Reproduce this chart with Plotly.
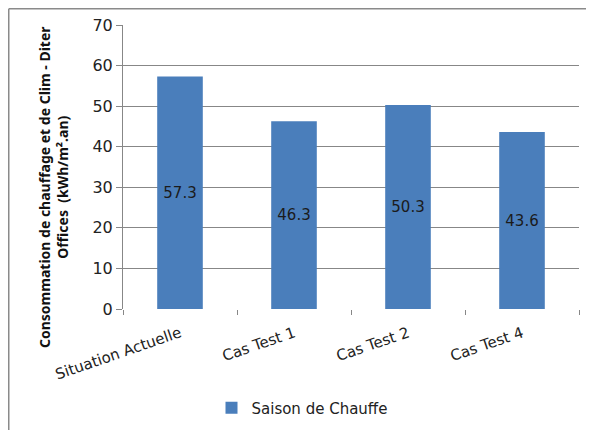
import plotly.graph_objects as go

categories = ["Situation Actuelle", "Cas Test 1", "Cas Test 2", "Cas Test 4"]
values = [57.3, 46.3, 50.3, 43.6]
value_labels = ["57.3", "46.3", "50.3", "43.6"]
series_name = "Saison de Chauffe"
y_ticks = [0, 10, 20, 30, 40, 50, 60, 70]

# The page body has an 8px default margin, so the figure is drawn 8px smaller
OFF = 8
W, H = 594 - OFF, 430 - OFF
L, T = 123 - OFF, 25 - OFF
PR, PB = 579 - OFF, 309 - OFF
R, B = W - PR, H - PB
pw = W - L - R
ph = H - T - B

def px(x):
    return (x - OFF - L) / pw

def py(y):
    return (PB - (y - OFF)) / ph

FONT = "DejaVu Sans"
GRID = "#878787"
TXT = "#222222"

fig = go.Figure()
fig.add_trace(go.Bar(
    x=categories, y=values, name=series_name,
    marker=dict(color="#4a7ebb", line=dict(width=0)),
    width=0.4,
    text=value_labels, textposition="inside", insidetextanchor="middle",
    textfont=dict(family=FONT, size=15, color="#1b1b1b"),
    textangle=0,
    showlegend=True,
))

fig.update_layout(
    width=W, height=H,
    margin=dict(l=L, r=R, t=T, b=B, autoexpand=False),
    paper_bgcolor="white", plot_bgcolor="white",
    font=dict(family=FONT, size=15, color=TXT),
    showlegend=True,
    legend=dict(orientation="h", x=px(302), xanchor="center",
                y=py(408), yanchor="middle",
                font=dict(family=FONT, size=15, color=TXT),
                itemwidth=30, bgcolor="rgba(0,0,0,0)"),
    xaxis=dict(
        type="category", showgrid=False, zeroline=False,
        showline=False, ticks="outside", tickson="boundaries",
        ticklen=5, tickcolor=GRID, tickwidth=1,
        ticklabelstandoff=12,
        tickangle=-19, tickfont=dict(family=FONT, size=15, color=TXT),
    ),
    yaxis=dict(
        range=[0, 70], tickvals=y_ticks, showgrid=True, gridcolor=GRID, gridwidth=1,
        zeroline=False, showline=True, linecolor=GRID, linewidth=1,
        ticks="outside", ticklen=6, tickcolor=GRID,
        tickfont=dict(family=FONT, size=16, color=TXT),
    ),
)

# Y-axis title (two lines, bold)
fig.add_annotation(
    xref="paper", yref="paper",
    x=px(53), y=py(187),
    text="<b>Consommation de chauffage et de Clim - Diter</b><br><b>Offices  (kWh/m².an)</b>",
    textangle=-90, showarrow=False, xanchor="center", yanchor="middle",
    font=dict(family="Noto Sans", size=14, color="#111111"),
)

# Outer chart frame (partially cut off at right and bottom)
fx = (0.75 - L) / pw
fy = (PB - 0.75) / ph
fig.add_shape(type="line", xref="paper", yref="paper",
              x0=fx, x1=(W + 5 - L) / pw, y0=fy, y1=fy,
              line=dict(color="#8a8a8a", width=1.5))
fig.add_shape(type="line", xref="paper", yref="paper",
              x0=fx, x1=fx, y0=fy, y1=(PB - H - 5) / ph,
              line=dict(color="#8a8a8a", width=1.5))

fig.write_html("out.html")
